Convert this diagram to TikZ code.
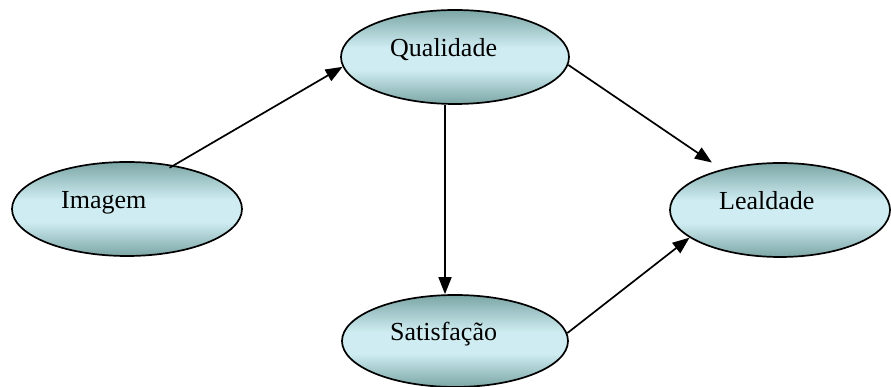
\documentclass[tikz,border=0pt]{standalone}
\usepackage{fontspec}
\setmainfont{Liberation Serif}
\usetikzlibrary{shapes.geometric,arrows.meta,calc}
\definecolor{tdark}{RGB}{124,166,166}
\definecolor{tlight}{RGB}{206,236,241}
\pgfdeclareverticalshading{tealshade}{100bp}{color(0bp)=(tdark); color(25bp)=(tdark); color(43bp)=(tlight); color(55bp)=(tlight); color(75bp)=(tdark); color(100bp)=(tdark)}
\tikzset{
  ell/.style={ellipse, draw=black, line width=1.7pt, shading=tealshade, inner sep=0pt},
  lbl/.style={anchor=base west, inner sep=0pt, font=\fontsize{26}{30}\selectfont},
  conn/.style={line width=1.7pt, -{Triangle[length=17pt,width=13pt]}},
}
\begin{document}
\begin{tikzpicture}[x=1pt,y=1pt]
\useasboundingbox (0,0) rectangle (891,387);
\node[ell, minimum width=228pt, minimum height=94pt] (q) at (455,330) {};
\node[ell, minimum width=230pt, minimum height=94pt] (i) at (127,178) {};
\node[ell, minimum width=226pt, minimum height=92pt] (s) at (455,46) {};
\node[ell, minimum width=220pt, minimum height=94pt] (l) at (780,177) {};
\node[lbl] (qt) at ($(q.center)+(-65,0)$) {Qualidade};
\node[lbl] (it) at ($(i.center)+(-66,0)$) {Imagem};
\node[lbl] (st) at ($(s.center)+(-65,0)$) {Satisfação};
\node[lbl] (lt) at ($(l.center)+(-61,0)$) {Lealdade};
\draw[conn, shorten <=-5pt] (i.43) -- (q.185);
\draw[conn] ([xshift=-10pt]q.south) -- ([xshift=-10pt]s.north);
\draw[conn, shorten >=12pt] (q.-4) -- (l.145);
\draw[conn] (s.4.5) -- (l.197);
\end{tikzpicture}
\end{document}
